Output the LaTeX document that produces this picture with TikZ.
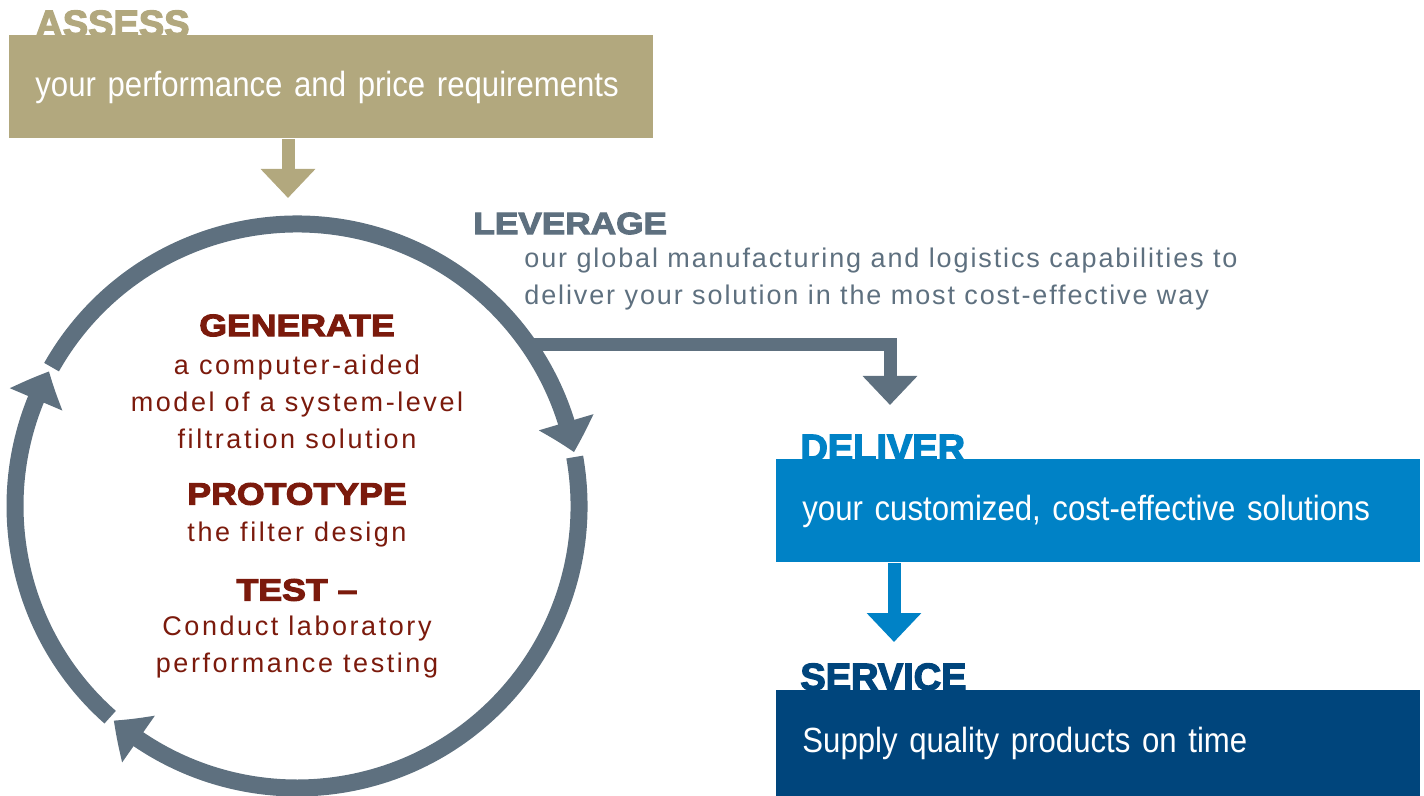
\documentclass[tikz,border=0pt]{standalone}
\usepackage{fontspec}
\setmainfont{Liberation Sans}
\usetikzlibrary{arrows.meta,bending,positioning}

\definecolor{assesstan}{RGB}{178,168,126}
\definecolor{ringslate}{RGB}{94,112,127}
\definecolor{genred}{RGB}{123,26,12}
\definecolor{deliverblue}{RGB}{0,130,198}
\definecolor{servicenavy}{RGB}{0,69,124}

\newfontfamily\headfont{Liberation Sans Bold}[FakeBold=3.5]
\newfontfamily\headwide{Liberation Sans Bold}[FakeBold=3.5,FakeStretch=1.15]
\newfontfamily\circfont{Liberation Sans}[LetterSpace=9.5]
\newfontfamily\levfont{Liberation Sans}[LetterSpace=7]
\newfontfamily\boxfont{Liberation Sans}[FakeStretch=0.89]

\tikzset{
  stagebox/.style={fill=#1, rectangle, anchor=north west, inner xsep=13pt, inner ysep=0pt,
    minimum width=322pt, minimum height=51.5pt, text width=296pt, align=left, text=white,
    text height=1.15em, text depth=0.2em, font=\boxfont\fontsize{17.5}{21}\selectfont},
  boxhead/.style={text=#1, anchor=base west, inner sep=0pt, font=\headfont\fontsize{19}{22}\selectfont},
  cyclehead/.style={text=genred, inner sep=0pt, font=\headwide\fontsize{15.5}{18}\selectfont},
  cycletext/.style={text=genred, inner sep=0pt, align=center, font=\circfont\fontsize{13.5}{18.5}\selectfont},
  ring/.style={draw=ringslate, line width=8.5pt, -{Triangle[width=27.5pt,length=15.5pt,bend]}},
  flow/.style={draw=#1, line width=6.5pt, -{Triangle[width=26.5pt,length=14.5pt]}}
}

\begin{document}
\begin{tikzpicture}[x=0.5pt,y=0.5pt]
    \useasboundingbox (0,0) rectangle (1424,-796);

    % headings sit behind the boxes
    \node[boxhead=assesstan] (assesshead) at (35,-37) {ASSESS};
    \node[boxhead=deliverblue] (deliverhead) at (800,-461) {DELIVER};
    \node[boxhead=servicenavy] (servicehead) at (800,-690) {SERVICE};

    \node[stagebox=assesstan] (assess) at (9,-35) {your performance and price requirements};
    \node[stagebox=deliverblue, minimum height=51.5pt] (deliver) at (776,-459) {your customized, cost-effective solutions};
    \node[stagebox=servicenavy, minimum height=53pt] (service) at (776,-690) {Supply quality products on time};

    % the cycle
    \coordinate (hub) at (297,-506);
    \coordinate (levstart) at ([shift={(35:282)}]hub);
    \draw[ring] ([shift={(150.5:282)}]hub) arc[start angle=150.5, end angle=11, radius=282];
    \draw[ring] ([shift={(10:282)}]hub) arc[start angle=10, end angle=-130.5, radius=282];
    \draw[ring] ([shift={(-131.5:282)}]hub) arc[start angle=-131.5, end angle=-208.5, radius=282];

    \node[cyclehead] (generate) at (297,-325.5) {GENERATE};
    \node[cycletext] (generatetext) at (297,-402) {a computer-aided\\model of a system-level\\filtration solution};
    \node[cyclehead] (prototype) at (297,-494) {PROTOTYPE};
    \node[cycletext] (prototypetext) at (297,-535) {the filter design};
    \node[cyclehead] (test) at (297,-590) {TEST –};
    \node[cycletext] (testtext) at (297,-647.5) {Conduct laboratory\\performance testing};

    \node[boxhead=ringslate, anchor=west, font=\headwide\fontsize{15.3}{18}\selectfont] (leverage) at (473,-223.5) {LEVERAGE};
    \node[cycletext, text=ringslate, align=left, anchor=west, font=\levfont\fontsize{13.5}{18.5}\selectfont] (leveragetext) at (524,-279.5)
        {our global manufacturing and logistics capabilities to\\deliver your solution in the most cost-effective way};

    % connectors
    \coordinate (assesstip) at (288,-198);
    \coordinate (levtip) at (890,-405);
    \coordinate (delivertip) at (894,-642);
    \draw[flow=assesstan] (assesstip |- assess.south) -- (assesstip);
    \draw[flow=ringslate] (levstart) -| (levtip);
    \draw[flow=deliverblue] (delivertip |- deliver.south) -- (delivertip);
\end{tikzpicture}
\end{document}
